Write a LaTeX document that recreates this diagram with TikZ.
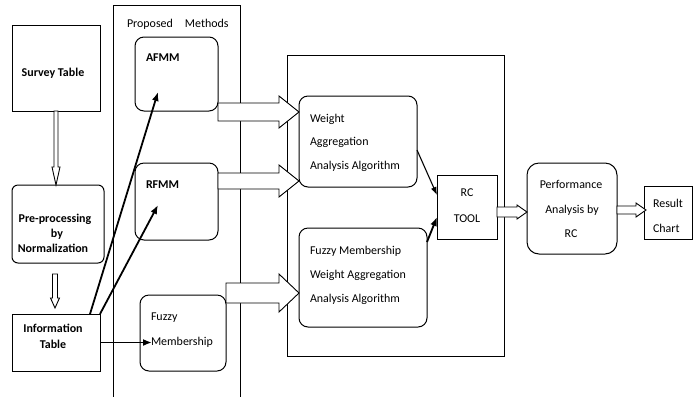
\documentclass[tikz,border=0pt]{standalone}
\usepackage{fontspec}
\setmainfont{Carlito}
\usetikzlibrary{arrows.meta,fit,calc}

% hollow block arrow pointing right: start, tip, body half-height, head half-height, head length
\newcommand\blockarrowh[5]{%
  \draw[hollow] let \p1=(#1), \p2=(#2) in
    (\x1,\y1+#3) -- (\x2-#5,\y1+#3) -- (\x2-#5,\y1+#4) -- (\x2,\y1)
    -- (\x2-#5,\y1-#4) -- (\x2-#5,\y1-#3) -- (\x1,\y1-#3) -- cycle;}
% hollow block arrow pointing down: start, tip, body half-width, head half-width, head length
\newcommand\blockarrowv[5]{%
  \draw[hollow] let \p1=(#1), \p2=(#2) in
    (\x1-#3,\y1) -- (\x1-#3,\y2+#5) -- (\x1-#4,\y2+#5) -- (\x1,\y2)
    -- (\x1+#4,\y2+#5) -- (\x1+#3,\y2+#5) -- (\x1+#3,\y1) -- cycle;}

\begin{document}
\begin{tikzpicture}[x=1bp,y=-1bp,
  every node/.style={inner sep=0pt, outer sep=0pt},
  frame/.style={draw, line width=0.9bp},
  sqbox/.style={draw, line width=0.9bp, rectangle},
  rbox/.style={draw, line width=1bp, rectangle, rounded corners=9bp},
  txt/.style={anchor=base, font=\fontsize{12}{14}\selectfont},
  txtl/.style={anchor=base west, font=\fontsize{12}{14}\selectfont},
  btxt/.style={anchor=base, font=\fontsize{12}{14}\selectfont\bfseries},
  btxtl/.style={anchor=base west, font=\fontsize{12}{14}\selectfont\bfseries},
  hollow/.style={draw, fill=white, line width=0.9bp, line join=miter},
  link/.style={draw, line width=1.8bp, -{Latex[length=9bp,width=7bp]}},
  thinlink/.style={draw, line width=1.1bp, -{Latex[length=8bp,width=6bp]}},
]
\useasboundingbox (0,0) rectangle (694,396);

% group frames
\draw[frame] (113,400) -- (113,5) -- (240,5) -- (240,400);
\draw[frame] (287,55) rectangle (504,356);

% boxes
\node[sqbox, fit={(12,25) (100,111)}] (survey) {};
\node[rbox, rounded corners=6bp, fit={(12,185) (104,263)}] (pre) {};
\node[sqbox, fit={(12,314) (100,371)}] (info) {};
\node[rbox, fit={(135,37) (218,111)}] (afmm) {};
\node[rbox, fit={(135,163) (218,240)}] (rfmm) {};
\node[rbox, fit={(140,295) (226,371)}] (fuzzy) {};
\node[rbox, fit={(299,96) (417,187)}] (wa) {};
\node[rbox, fit={(299,228) (427,327)}] (fmwa) {};
\node[sqbox, fit={(437,175) (497,239)}] (rc) {};
\node[rbox, rounded corners=12bp, fit={(527,163) (617,254)}] (perf) {};
\node[sqbox, fit={(644,186) (692.5,239)}] (result) {};

% block arrows
\blockarrowv{survey.south}{pre.north}{2bp}{4bp}{18bp}
\coordinate (pv) at ($(pre.south)+(-3,11)$);
\coordinate (pvt) at ($(info.north)+(0,-6)$);
\blockarrowv{pv}{pvt}{2.5bp}{4.5bp}{10bp}

\coordinate (a1) at ($(afmm.south east)+(0,1)$);
\coordinate (a1t) at (wa.west |- a1);
\blockarrowh{a1}{a1t}{9bp}{16bp}{20bp}
\coordinate (a2) at ($(rfmm.north east)+(0,18)$);
\coordinate (a2t) at (wa.west |- a2);
\blockarrowh{a2}{a2t}{8bp}{16bp}{20bp}
\coordinate (a3) at ($(fuzzy.north east)+(0,-2)$);
\coordinate (a3t) at (fmwa.west |- a3);
\blockarrowh{a3}{a3t}{10bp}{19bp}{20bp}
\coordinate (a4) at ($(rc.east)+(0,5)$);
\coordinate (a4t) at (perf.west |- a4);
\blockarrowh{a4}{a4t}{5bp}{7bp}{10bp}
\coordinate (a5) at ($(perf.east)+(0,1.5)$);
\coordinate (a5t) at ($(result.west |- a5)+(2,0)$);
\blockarrowh{a5}{a5t}{4bp}{7bp}{10bp}

% texts
\node[btxt] (tsurvey) at (53,76) {Survey Table};
\node[txtl] (tprop) at (127,27.5) {Proposed\hspace{12bp}Methods};
\node[btxtl] (tafmm) at (146,61) {AFMM};
\node[btxtl] (trfmm) at (146,188) {RFMM};
\node[btxt] (tpre1) at (55,222) {Pre-processing};
\node[btxt] (tpre2) at (57,237) {by};
\node[btxt] (tpre3) at (53,252) {Normalization};
\node[btxt] (tinfo1) at (53,332) {Information};
\node[btxt] (tinfo2) at (53,348) {Table};
\node[txtl] (tfz1) at (151,320) {Fuzzy};
\node[txtl] (tfz2) at (151,345) {Membership};
\node[txtl] (twa1) at (310,122) {Weight};
\node[txtl] (twa2) at (310,145) {Aggregation};
\node[txtl] (twa3) at (310,169) {Analysis Algorithm};
\node[txtl] (tfm1) at (310,254) {Fuzzy Membership};
\node[txtl] (tfm2) at (310,278) {Weight Aggregation};
\node[txtl] (tfm3) at (310,302) {Analysis Algorithm};
\node[txt] (trc1) at (467,196) {RC};
\node[txt] (trc2) at (467,222) {TOOL};
\node[txt] (tpf1) at (571,188) {Performance};
\node[txt] (tpf2) at (572,213) {Analysis by};
\node[txt] (tpf3) at (571,237) {RC};
\node[txtl] (tres1) at (653,207) {Result};
\node[txtl] (tres2) at (653,232) {Chart};

% line connectors
\coordinate (i1) at ($(info.north east)+(-10,0)$);
\coordinate (e1) at (158,92);
\coordinate (e2) at (158,205);
\coordinate (e3) at ($(info.east -| fuzzy.west)+(12,0)$);
\draw[link] (i1) -- (e1);
\draw[link] (info.north east) -- (e2);
\draw[link] (info.east) -- (e3);
\draw[thinlink] ($(wa.east)+(0,8.5)$) -- ($(rc.west)+(0,-12)$);
\draw[link] ($(fmwa.north east)+(0,14)$) -- ($(rc.west)+(0,10)$);
\end{tikzpicture}
\end{document}
